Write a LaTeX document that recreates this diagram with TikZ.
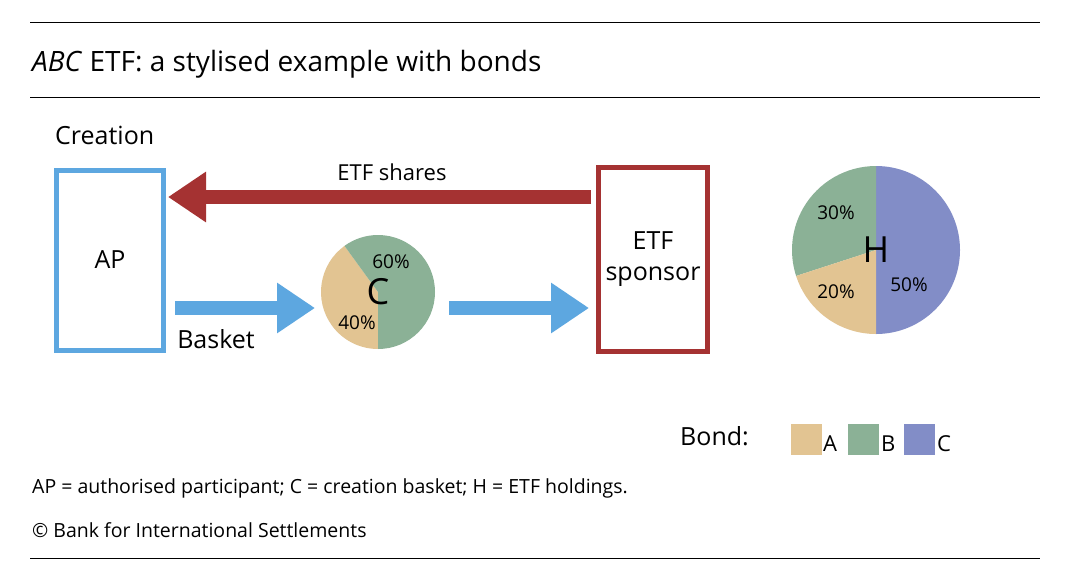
\documentclass[tikz,border=0pt]{standalone}
\usepackage{fontspec}
\setmainfont{Open Sans}
\usetikzlibrary{arrows.meta}
\definecolor{tanc}{RGB}{226,196,146}
\definecolor{grc}{RGB}{139,177,150}
\definecolor{puc}{RGB}{130,141,199}
\definecolor{blc}{RGB}{93,167,224}
\definecolor{rdc}{RGB}{165,50,50}
\newcommand{\fs}[1]{\fontsize{#1}{#1}\selectfont}
\begin{document}
\begin{tikzpicture}[x=1pt,y=-1pt,
  rule/.style={line width=1pt},
  lbl/.style={inner sep=0pt,font=\fs{25}},
  pl/.style={inner sep=0pt,font=\fs{19}},
  fat/.style={line width=14pt,-{Triangle[length=38pt,width=48pt]}}]
\useasboundingbox (0,0) rectangle (1078,584);
\fill[white] (0,0) rectangle (1078,584);
\coordinate (l1a) at (30,22); \coordinate (l1b) at (1040,22);
\coordinate (l2a) at (30,97); \coordinate (l2b) at (1040,97);
\coordinate (l3a) at (30,558); \coordinate (l3b) at (1040,558);
\draw[rule] (l1a)--(l1b); \draw[rule] (l2a)--(l2b); \draw[rule] (l3a)--(l3b);
\node[anchor=west,inner sep=0pt,font=\fs{28}] (title) at (32,64) {\textit{ABC} ETF: a stylised example with bonds};
\node[anchor=west,lbl] (cr) at (55,135) {Creation};
\node[draw=blc,line width=5pt,minimum width=107pt,minimum height=180pt,lbl] (ap) at (110,260) {AP};
\node[draw=rdc,line width=5pt,minimum width=109pt,minimum height=184pt,lbl,align=center] (sp) at (653,259) {ETF\\[6pt]sponsor};
\coordinate (r1) at (591,197); \coordinate (r2) at (168,197);
\draw[fat,rdc] (r1)--(r2);
\node[lbl,font=\fs{22}] (es) at (392,172) {ETF shares};
\coordinate (b1) at (175,308); \coordinate (b2) at (315,308);
\coordinate (b3) at (449,308); \coordinate (b4) at (589,308);
\draw[fat,blc] (b1)--(b2); \draw[fat,blc] (b3)--(b4);
\node[lbl] (bk) at (216,339) {Basket};
% pie C
\coordinate (pc) at (378,292);
\fill[tanc] (pc) -- ([shift={(126:57pt)}]pc) arc[start angle=126,end angle=270,radius=57pt] -- cycle;
\fill[grc] (pc) -- ([shift={(-90:57pt)}]pc) arc[start angle=-90,end angle=126,radius=57pt] -- cycle;
\node[inner sep=0pt,font=\fs{36}] (c) at (pc) {C};
\node[pl] (p60) at (391,262) {60\%};
\node[pl] (p40) at (357,323) {40\%};
% pie H
\coordinate (ph) at (876,250);
\fill[puc] (ph) -- ([shift={(-90:84pt)}]ph) arc[start angle=-90,end angle=90,radius=84pt] -- cycle;
\fill[grc] (ph) -- ([shift={(90:84pt)}]ph) arc[start angle=90,end angle=198,radius=84pt] -- cycle;
\fill[tanc] (ph) -- ([shift={(198:84pt)}]ph) arc[start angle=198,end angle=270,radius=84pt] -- cycle;
\node[inner sep=0pt,font=\fs{36}] (h) at (ph) {H};
\node[pl] (p30) at (836,213) {30\%};
\node[pl] (p20) at (836,292) {20\%};
\node[pl] (p50) at (909,285) {50\%};
% legend
\node[lbl,anchor=west] (bond) at (680,436) {Bond:};
\node[fill=tanc,minimum size=31pt,inner sep=0pt] (sa) at (806,439) {};
\node[lbl,font=\fs{22},anchor=west] (la) at (823,444) {A};
\node[fill=grc,minimum size=31pt,inner sep=0pt] (sb) at (863,439) {};
\node[lbl,font=\fs{22},anchor=west] (lb) at (881,444) {B};
\node[fill=puc,minimum size=31pt,inner sep=0pt] (sc) at (919,439) {};
\node[lbl,font=\fs{22},anchor=west] (lc) at (937,444) {C};
\node[anchor=west,inner sep=0pt,font=\fs{19.5}] (f1) at (32,488) {AP = authorised participant; C = creation basket; H = ETF holdings.};
\node[anchor=west,inner sep=0pt,font=\fs{19.5}] (f2) at (32,530) {© Bank for International Settlements};
\end{tikzpicture}
\end{document}
